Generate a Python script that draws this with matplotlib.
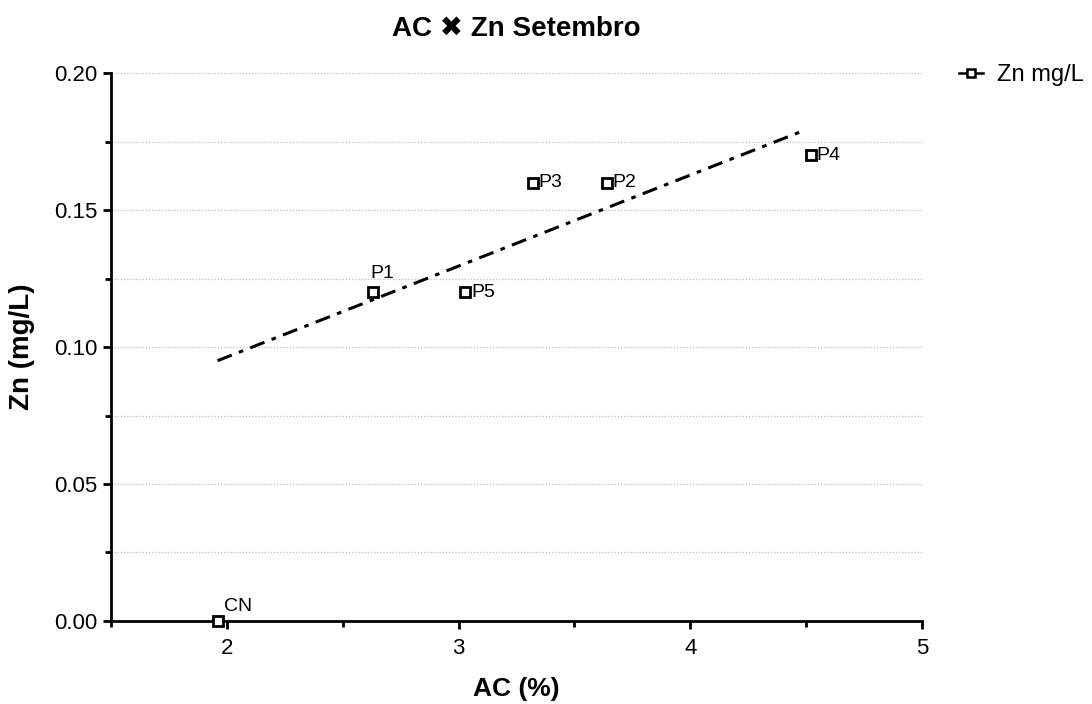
import matplotlib.pyplot as plt
from matplotlib.lines import Line2D
from matplotlib.ticker import MultipleLocator

plt.rcParams['font.family'] = ['Liberation Sans', 'DejaVu Sans']

# data
labels = ['CN', 'P1', 'P5', 'P3', 'P2', 'P4']
ac = [1.96, 2.63, 3.03, 3.32, 3.64, 4.52]
zn = [0.00, 0.12, 0.12, 0.16, 0.16, 0.17]

# trend line end points
trend_x = [1.96, 4.49]
trend_y = [0.095, 0.179]

# label offsets in points
offsets = {'CN': (5, 4), 'P1': (-2, 7), 'P5': (4, -6), 'P3': (4, -6),
           'P2': (4, -6), 'P4': (4, -6)}

fig = plt.figure(figsize=(10.92, 7.04), dpi=100)
ax = fig.add_axes([0.1016, 0.1179, 0.7427, 0.7784])

ax.plot(trend_x, trend_y, color='black', lw=2.2, linestyle=(0, (5, 2.5, 1.5, 2.5)))
ax.plot(ac, zn, linestyle='none', marker='s', markersize=7,
        markerfacecolor='white', markeredgecolor='black', markeredgewidth=2,
        clip_on=False, zorder=5)

for lab, x, y in zip(labels, ac, zn):
    dx, dy = offsets[lab]
    ax.annotate(lab, (x, y), xytext=(dx, dy), textcoords='offset points',
                fontsize=14, va='bottom', ha='left')

ax.set_xlim(1.5, 5)
ax.set_ylim(0, 0.2)
ax.xaxis.set_minor_locator(MultipleLocator(0.5))
ax.yaxis.set_minor_locator(MultipleLocator(0.025))
ax.set_xticks([2, 3, 4, 5])
ax.set_yticks([0, 0.05, 0.1, 0.15, 0.2])
ax.set_yticklabels(['0.00', '0.05', '0.10', '0.15', '0.20'])

ax.grid(which='both', axis='y', color='#bbbbbb', linestyle=(0, (1, 1.5)), lw=0.9)
ax.set_axisbelow(True)

for s in ['top', 'right']:
    ax.spines[s].set_visible(False)
for s in ['left', 'bottom']:
    ax.spines[s].set_linewidth(2)

ax.tick_params(which='major', direction='out', length=6, width=2, labelsize=16)
ax.tick_params(which='minor', direction='out', length=4, width=2)
ax.tick_params(axis='x', which='major', pad=6)

ax.set_xlabel('AC (%)', fontsize=19, fontweight='bold', labelpad=13)
ax.set_ylabel('Zn (mg/L)', fontsize=20, fontweight='bold', labelpad=14)
ax.set_title('AC \u2716 Zn Setembro', fontsize=20, fontweight='bold', pad=27)

handle = Line2D([], [], color='black', lw=1.8, marker='s', markersize=6,
                markerfacecolor='white', markeredgecolor='black', markeredgewidth=1.8)
ax.legend([handle], ['Zn mg/L'], loc='upper left', bbox_to_anchor=(1.02, 1.055),
          frameon=False, fontsize=17, handlelength=1.0, handletextpad=0.6)

fig.savefig('out.png', dpi=100)
